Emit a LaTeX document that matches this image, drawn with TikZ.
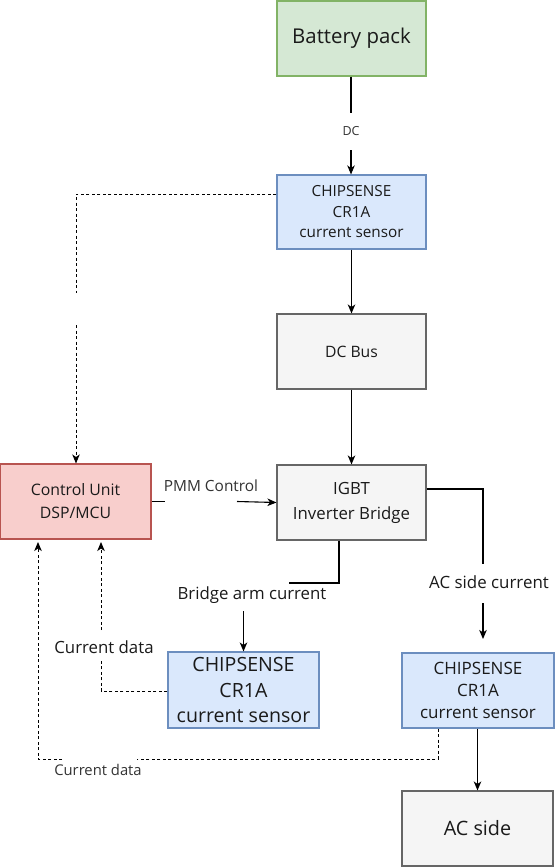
\documentclass[tikz,border=0pt]{standalone}
\usepackage{fontspec}
\setmainfont{Open Sans}
\usetikzlibrary{arrows.meta}
\definecolor{gfill}{HTML}{D5E8D4}
\definecolor{gdraw}{HTML}{82B366}
\definecolor{bfill}{HTML}{DAE8FC}
\definecolor{bdraw}{HTML}{6C8EBF}
\definecolor{yfill}{HTML}{F5F5F5}
\definecolor{ydraw}{HTML}{666666}
\definecolor{rfill}{HTML}{F8CECC}
\definecolor{rdraw}{HTML}{B85450}
\definecolor{txt}{HTML}{1A1A1A}
\definecolor{ltxt}{HTML}{333333}
\tikzset{
  box/.style={draw, line width=1.1pt, inner sep=0pt, align=center, text=txt,
    minimum width=149pt, minimum height=75pt},
  gbox/.style={box, fill=gfill, draw=gdraw},
  bbox/.style={box, fill=bfill, draw=bdraw},
  ybox/.style={box, fill=yfill, draw=ydraw},
  rbox/.style={box, fill=rfill, draw=rdraw},
  lbl/.style={inner sep=0pt, text=txt, align=center},
  conn/.style={line width=1.1pt, draw=black},
  tip/.style={-{Stealth[length=9pt,width=7.5pt,inset=2.5pt]}},
  arr/.style={conn, tip},
  dsh/.style={conn, line width=1pt, dash pattern=on 3pt off 2.5pt},
  darr/.style={dsh, tip},
}
\begin{document}
\begin{tikzpicture}[x=1pt,y=-1pt]
\useasboundingbox[fill=white] (0,0) rectangle (554,867);

% boxes
\node[gbox, font=\fontsize{20.4}{24}\selectfont] (bat) at (351.5,38.5) {Battery pack};
\node[bbox, minimum height=74pt, font=\fontsize{15.3}{20.5}\selectfont] (s1) at (351.5,212) {CHIPSENSE\\CR1A\\current sensor};
\node[ybox, font=\fontsize{15.7}{18}\selectfont] (bus) at (351.5,351.5) {DC Bus};
\node[ybox, font=\fontsize{16.8}{25}\selectfont] (igbt) at (351.5,502.5) {IGBT\\Inverter Bridge};
\node[rbox, minimum width=151pt, font=\fontsize{15.8}{23}\selectfont] (ctrl) at (75.5,501.5) {Control Unit\\DSP/MCU};
\node[bbox, minimum width=151pt, minimum height=76pt, font=\fontsize{19.6}{25.5}\selectfont] (s2) at (243.5,690) {CHIPSENSE\\CR1A\\current sensor};
\node[bbox, minimum width=152pt, font=\fontsize{17}{22}\selectfont] (s3) at (478,690.5) {CHIPSENSE\\CR1A\\current sensor};
\node[ybox, minimum width=151pt, font=\fontsize{19.8}{22}\selectfont] (ac) at (477.5,828.5) {AC side};

% labels
\node[lbl, text=ltxt, minimum height=37pt, font=\fontsize{12.5}{14}\selectfont] (dcl) at (351,131.5) {DC};
\node[lbl, text=ltxt, font=\fontsize{15.4}{17}\selectfont] (pmml) at (211,486) {PMM Control};
\node[lbl, font=\fontsize{16.8}{19}\selectfont] (bridgel) at (252,595) {Bridge arm current};
\node[lbl, font=\fontsize{16.9}{19}\selectfont] (acl) at (489,582) {AC side current};
\node[lbl, font=\fontsize{16.8}{19}\selectfont] (cd1) at (104,647) {Current data};
\node[lbl, text=ltxt, font=\fontsize{14.8}{17}\selectfont] (cd2) at (98,770) {Current data};

% helper coordinates
\coordinate (pa) at (165,501.5);
\coordinate (pb) at (237,501.5);
\coordinate (br1) at (339,583);
\coordinate (br2) at (289,583);
\coordinate (br3) at (243.5,611);
\coordinate (ac1) at (483,489);
\coordinate (ac2) at (483,564);
\coordinate (ac3) at (483,603);
\coordinate (ac4) at (483,639);
\coordinate (t1) at (76,194);
\coordinate (t2) at (76,293);
\coordinate (t3) at (76,325);
\coordinate (c1) at (101,691);
\coordinate (c2) at (101,661);
\coordinate (c3) at (101,630);
\coordinate (c4) at (101,542);
\coordinate (d1) at (438,759);
\coordinate (d2) at (137,759);
\coordinate (d3) at (62,759);
\coordinate (d4) at (38,759);
\coordinate (d5) at (38,542);

% solid connectors
\draw[conn] (bat.south -| dcl) -- (dcl.north);
\draw[arr] (dcl.south) -- (s1.north -| dcl);
\draw[arr] (s1.south) -- (bus.north);
\draw[arr] (bus.south) -- (igbt.north);
\draw[conn] (ctrl.east) -- (pa);
\draw[arr] (pb) -- (igbt.west);
\draw[conn] (igbt.south -| br1) -- (br1) -- (br2);
\draw[arr] (br3) -- (s2.north);
\draw[conn] (igbt.east |- ac1) -- (ac1) -- (ac2);
\draw[arr] (ac3) -- (ac4);
\draw[arr] (s3.south -| ac.north) -- (ac.north);

% dashed connectors
\draw[dsh] (s1.west |- t1) -- (t1) -- (t2);
\draw[darr] (t3) -- (ctrl.north -| t3);
\draw[dsh] (s2.west |- c1) -- (c1) -- (c2);
\draw[darr] (c3) -- (c4);
\draw[dsh] (s3.south -| d1) -- (d1) -- (d2);
\draw[darr] (d3) -- (d4) -- (d5);
\end{tikzpicture}
\end{document}
